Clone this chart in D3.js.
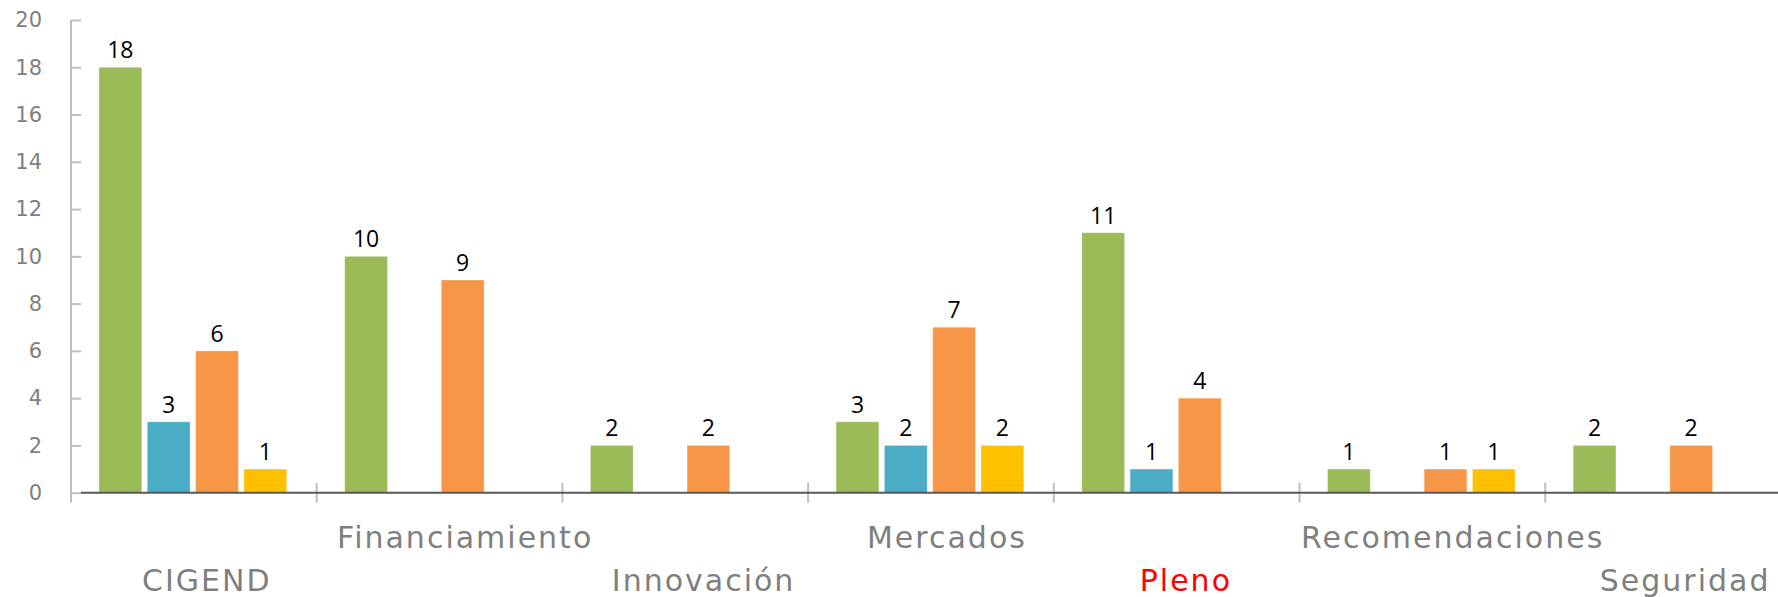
<!DOCTYPE html>
<html>
<head>
<meta charset="utf-8">
<script src="https://cdn.jsdelivr.net/npm/d3@7"></script>
<style>
  body { margin: 0; background: #fff; }
  svg { display: block; }
</style>
</head>
<body>
<svg id="chart" width="1778" height="597"></svg>
<script>
const categories = ["CIGEND", "Financiamiento", "Innovación", "Mercados", "Pleno", "Recomendaciones", "Seguridad"];
const series = ["s1", "s2", "s3", "s4"];
const green  = [18, 10, 2, 3, 11, 1, 2];
const blue   = [3, 0, 0, 2, 1, 0, 0];
const orange = [6, 9, 2, 7, 4, 1, 2];
const yellow = [1, 0, 0, 2, 0, 1, 0];
const yTicks = [0, 2, 4, 6, 8, 10, 12, 14, 16, 18, 20];
const colors = ["#9bbb59", "#4bacc6", "#f79646", "#ffc000"];
const highlight = "Pleno";

const values = [green, blue, orange, yellow];
const rows = categories.map((c, i) => ({cat: c, vals: series.map((s, j) => ({s, v: values[j][i]}))}));

const svg = d3.select("#chart");
const left = 71, groupW = 245.7;

const x0 = d3.scaleBand()
    .domain(categories)
    .range([left, left + groupW * categories.length]);

const x1 = d3.scaleBand()
    .domain(series)
    .range([28, groupW - 30])
    .paddingInner(0.115);

const y = d3.scaleLinear().domain([0, 20]).range([492.7, 20]);

// y axis
const yAxis = svg.append("g")
    .attr("transform", `translate(${left},0)`)
    .call(d3.axisLeft(y).tickValues(yTicks).tickSize(10).tickPadding(19).tickSizeOuter(0));
yAxis.select(".domain").remove();
yAxis.selectAll(".tick line").attr("x2", 10).attr("stroke", "#bfbfbf").attr("stroke-width", 2);
yAxis.selectAll(".tick text")
    .attr("fill", "#7f7f7f")
    .style("font-family", "'DejaVu Sans', sans-serif")
    .style("font-size", "21px");
yAxis.append("line")
    .attr("y1", y(20)).attr("y2", y(0) + 10)
    .attr("stroke", "#bfbfbf").attr("stroke-width", 2);

// category boundary ticks
svg.append("g").selectAll("line")
  .data(categories.slice(1).concat(["_end"]))
  .join("line")
    .attr("x1", (d, i) => x0.range()[0] + x0.step() * (i + 1))
    .attr("x2", (d, i) => x0.range()[0] + x0.step() * (i + 1))
    .attr("y1", y(0) - 10).attr("y2", y(0) + 10)
    .attr("stroke", "#bfbfbf").attr("stroke-width", 2);

// bars
const groups = svg.append("g").selectAll("g")
  .data(rows)
  .join("g")
    .attr("transform", d => `translate(${x0(d.cat)},0)`);

groups.selectAll("rect")
  .data(d => d.vals.filter(v => v.v > 0))
  .join("rect")
    .attr("x", d => x1(d.s))
    .attr("width", x1.bandwidth())
    .attr("y", d => y(d.v))
    .attr("height", d => y(0) - y(d.v))
    .attr("fill", d => colors[series.indexOf(d.s)])
    .attr("stroke", "#fff").attr("stroke-opacity", 0.3).attr("stroke-width", 1);

groups.selectAll("text")
  .data(d => d.vals.filter(v => v.v > 0))
  .join("text")
    .attr("x", d => x1(d.s) + x1.bandwidth() / 2)
    .attr("y", d => y(d.v) - 9)
    .attr("text-anchor", "middle")
    .style("font-family", "'Open Sans', sans-serif")
    .style("font-size", "23px")
    .attr("fill", "#000")
    .text(d => d.v);

// baseline
svg.append("line")
    .attr("x1", left + 10).attr("x2", 1778)
    .attr("y1", y(0)).attr("y2", y(0))
    .attr("stroke", "#595959").attr("stroke-width", 2);

// staggered category labels
const labels = svg.append("g").selectAll("text")
  .data(categories)
  .join("text")
    .attr("y", (d, i) => i % 2 ? 548 : 591)
    .attr("fill", d => d === highlight ? "#ff0000" : "#7f7f7f")
    .style("font-family", "'DejaVu Sans', sans-serif")
    .style("font-size", "30px")
    .style("letter-spacing", "2px")
    .text(d => d);
labels.attr("x", function(d) {
  const w = this.getComputedTextLength();
  return x0(d) + x0.bandwidth() / 2 - 0.4 * w;
});
</script>
</body>
</html>
